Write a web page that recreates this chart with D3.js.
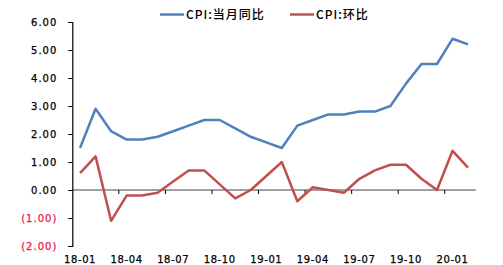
<!DOCTYPE html>
<html><head><meta charset="utf-8">
<script src="https://cdn.jsdelivr.net/npm/d3@7"></script>
<style>body{margin:0;background:#fff}svg{display:block}</style>
</head><body>
<svg id="c" width="503" height="265"></svg>
<script>
const months = ["18-01","18-02","18-03","18-04","18-05","18-06","18-07","18-08","18-09","18-10","18-11","18-12",
"19-01","19-02","19-03","19-04","19-05","19-06","19-07","19-08","19-09","19-10","19-11","19-12","20-01","20-02"];
const cpiYoY = [1.5,2.9,2.1,1.8,1.8,1.9,2.1,2.3,2.5,2.5,2.2,1.9,1.7,1.5,2.3,2.5,2.7,2.7,2.8,2.8,3.0,3.8,4.5,4.5,5.4,5.2];
const cpiMoM = [0.6,1.2,-1.1,-0.2,-0.2,-0.1,0.3,0.7,0.7,0.2,-0.3,0.0,0.5,1.0,-0.4,0.1,0.0,-0.1,0.4,0.7,0.9,0.9,0.4,0.0,1.4,0.8];
const yTicks = [-2,-1,0,1,2,3,4,5,6];
const xLabels = ["18-01","18-04","18-07","18-10","19-01","19-04","19-07","19-10","20-01"];
const seriesNames = ["CPI:当月同比","CPI:环比"];
const colors = ["#4F81BD","#C0504D"];

const svg = d3.select("#c");
const font = "'DejaVu Sans', sans-serif";
const x = d3.scaleBand().domain(months).range([72.3, 475.8]);
const y = d3.scaleLinear().domain([-2, 6]).range([246, 22]);
const fmt = v => v < 0 ? "(" + d3.format(".2f")(-v) + ")" : d3.format(".2f")(v);

// zero line
svg.append("line").attr("x1", x.range()[0]).attr("x2", x.range()[1])
  .attr("y1", y(0)).attr("y2", y(0)).attr("stroke", "#808080").attr("stroke-width", 1.3);
// x ticks at category boundaries every 3 months
months.forEach((m, i) => {
  if (i > 0 && i % 3 === 0) {
    svg.append("line").attr("x1", x(m)).attr("x2", x(m)).attr("y1", y(0)).attr("y2", y(0) + 4)
      .attr("stroke", "#000").attr("stroke-width", 1);
  }
});
// y axis
const ya = svg.append("g").attr("transform", "translate(72.3,0)")
  .call(d3.axisLeft(y).tickValues(yTicks).tickSize(4).tickFormat(fmt));
ya.select(".domain").attr("stroke", "#000").attr("stroke-width", 1.2);
ya.selectAll(".tick line").attr("stroke", "#000");
ya.selectAll("text").attr("font-family", font).attr("font-size", 10).attr("letter-spacing", 1)
  .attr("stroke", d => d < 0 ? "#E8203A" : "#000").attr("stroke-width", 0.25)
  .attr("x", -15).attr("fill", d => d < 0 ? "#E8203A" : "#000");

// x labels
svg.append("g").selectAll("text").data(xLabels).join("text")
  .attr("x", d => x(d) + x.bandwidth() / 2).attr("y", 263)
  .attr("text-anchor", "middle").attr("font-family", font).attr("font-size", 10)
  .attr("stroke", "#000").attr("stroke-width", 0.25)
  .attr("letter-spacing", 0.6).attr("fill", "#000").text(d => d);

// lines
const line = d3.line().x((d, i) => x(months[i]) + x.bandwidth() / 2).y(d => y(d));
[cpiYoY, cpiMoM].forEach((s, k) => {
  svg.append("path").datum(s).attr("d", line).attr("fill", "none")
    .attr("stroke", colors[k]).attr("stroke-width", 2.5).attr("stroke-linejoin", "round");
});

// legend
const legX = [160, 290];
seriesNames.forEach((n, k) => {
  svg.append("line").attr("x1", legX[k]).attr("x2", legX[k] + 24).attr("y1", 14.5).attr("y2", 14.5)
    .attr("stroke", colors[k]).attr("stroke-width", 2.5);
  svg.append("text").attr("x", legX[k] + 26).attr("y", 19).attr("font-family", "'Noto Sans CJK SC', " + font)
    .attr("font-size", 12).attr("font-weight", 500).attr("letter-spacing", 1)
    .attr("fill", "#000").text(n);
});
</script>
</body></html>
